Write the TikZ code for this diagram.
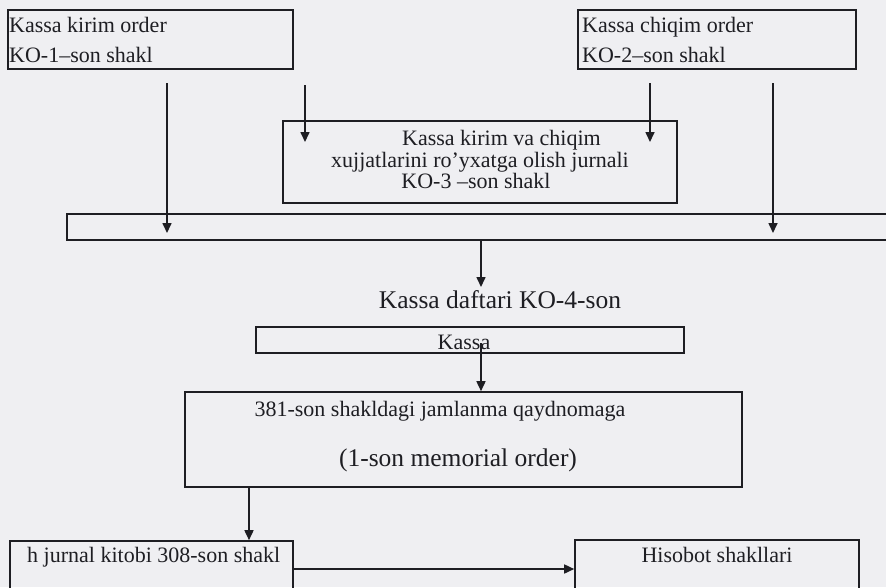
\documentclass[tikz,border=0pt]{standalone}
\usepackage{fontspec}
\setmainfont{Liberation Serif}
\usetikzlibrary{arrows.meta}
\definecolor{paper}{RGB}{239,239,242}
\definecolor{ink}{RGB}{30,30,35}
\begin{document}
\begin{tikzpicture}[x=1pt,y=-1pt,
  box/.style={draw=ink,line width=1.6pt,inner sep=0pt,fill=none},
  txt/.style={font=\fontsize{22}{22}\selectfont,text=ink,inner sep=0pt,anchor=base west},
  ctxt/.style={font=\fontsize{22}{22}\selectfont,text=ink,inner sep=0pt,anchor=base},
  big/.style={font=\fontsize{25.5}{25.5}\selectfont,text=ink,inner sep=0pt,anchor=base},
  arr/.style={draw=ink,line width=1.6pt,-{Triangle[length=10pt,width=9pt]}}]
\fill[paper] (0,0) rectangle (886,587);
\useasboundingbox (0,0) rectangle (886,587);
\clip (0,0) rectangle (886,587);
% boxes
\node[box,minimum width=285pt,minimum height=59pt] (b1) at (150.5,39.5) {};
\node[box,minimum width=278pt,minimum height=59pt] (b2) at (717,39.5) {};
\node[box,minimum width=394pt,minimum height=82pt] (b3) at (480,162) {};
\node[box,minimum width=833pt,minimum height=26pt] (wide) at (483.5,227) {};
\node[box,minimum width=428pt,minimum height=26pt] (kassa) at (470,340) {};
\node[box,minimum width=557pt,minimum height=95pt] (b381) at (463.5,439.5) {};
\node[box,minimum width=283pt,minimum height=59pt] (bl) at (151.5,570.5) {};
\node[box,minimum width=284pt,minimum height=60pt] (br) at (717,570) {};
% texts
\node[txt] (t1a) at (9,32) {Kassa kirim order};
\node[txt] (t1b) at (9,62) {KO-1–son shakl};
\node[txt] (t2a) at (582,32) {Kassa chiqim order};
\node[txt] (t2b) at (582,62) {KO-2–son shakl};
\node[txt] (t3a) at (402,145) {Kassa kirim va chiqim};
\node[ctxt] (t3b) at (480,167) {xujjatlarini ro’yxatga olish jurnali};
\node[ctxt] (t3c) at (476,188) {KO-3 –son shakl};
\node[big] (tdaf) at (500,308) {Kassa daftari KO-4-son};
\node[ctxt] (tkas) at (464,349) {Kassa};
\node[ctxt] (t381) at (440,416) {381-son shakldagi jamlanma qaydnomaga};
\node[big] (tmem) at (458,466) {(1-son memorial order)};
\node[txt] (tbl) at (27,562) {h jurnal kitobi 308-son shakl};
\node[ctxt] (tbr) at (717,562) {Hisobot shakllari};
% connector anchors
\coordinate (s1) at (167,83);
\coordinate (s2) at (305,85);
\coordinate (s3) at (650,83);
\coordinate (s4) at (773,83);
\coordinate (e1) at (167,233);
\coordinate (e2) at (305,142);
\coordinate (e3) at (650,142);
\coordinate (e4) at (773,233);
\coordinate (cx) at (481,0);
\coordinate (e5) at (481,287);
\coordinate (s6) at (481,343);
\coordinate (cl) at (249,0);
\coordinate (cy) at (0,569);
% connectors
\draw[arr] (s1) -- (e1);
\draw[arr] (s2) -- (e2);
\draw[arr] (s3) -- (e3);
\draw[arr] (s4) -- (e4);
\draw[arr] (wide.south -| cx) -- (e5);
\draw[arr] (s6) -- (b381.north -| cx);
\draw[arr] (b381.south -| cl) -- (bl.north -| cl);
\draw[arr] (bl.east |- cy) -- (br.west |- cy);
\end{tikzpicture}
\end{document}
